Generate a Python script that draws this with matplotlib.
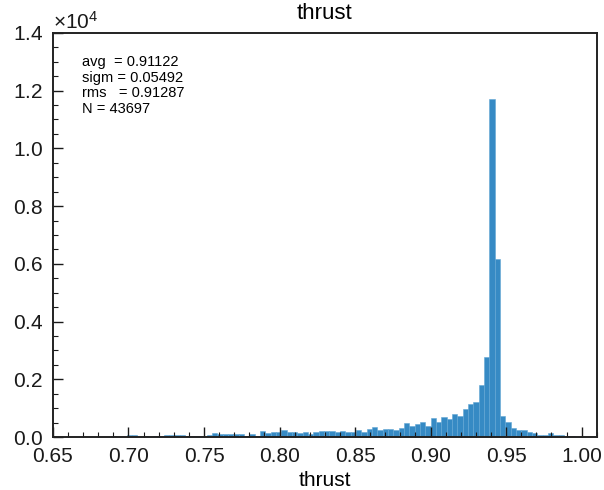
import matplotlib
matplotlib.use("Agg")
import matplotlib.pyplot as plt
import numpy as np
from matplotlib.ticker import MultipleLocator, ScalarFormatter

plt.rcParams["font.family"] = ["Liberation Sans", "DejaVu Sans"]
plt.rcParams["mathtext.fontset"] = "custom"
plt.rcParams["mathtext.rm"] = "Liberation Sans"
plt.rcParams["mathtext.it"] = "Liberation Sans:italic"

# histogram of thrust: 100 bins, counts
bin_start = 0.6494
bin_width = 0.00353
counts = [
    0, 0, 0, 0, 3, 0, 5, 4, 6, 8,
    12, 35, 10, 12, 58, 58, 12, 46, 12, 46,
    35, 58, 58, 58, 58, 35, 35, 35, 46, 58,
    127, 92, 92, 115, 115, 104, 46, 92, 40,
    208, 139, 162, 162, 231, 162, 185, 139, 162, 92, 162, 220, 210, 208, 185, 208, 162,
    162, 254, 173, 289, 335, 231, 289, 277, 254, 300, 485, 393, 439, 508, 393,
    647, 520, 681, 624, 808, 716, 970, 1155, 1201, 1790, 2772, 11710, 6180, 728, 520,
    300, 250, 235, 160, 150, 70, 70, 139, 58, 58, 35, 35, 5, 0,
]
stats_lines = ["avg  = 0.91122", "sigm = 0.05492", "rms   = 0.91287", "N = 43697"]

edges = bin_start + bin_width * np.arange(len(counts) + 1)

fig = plt.figure(figsize=(6.04, 4.90), dpi=100)
ax = fig.add_axes([0.0877, 0.108, 0.9003, 0.825])

ax.bar(edges[:-1], counts, width=np.diff(edges), align="edge",
       color="#368ac4", edgecolor="#62a6d4", linewidth=0.4)

ax.set_xlim(0.65, 1.01)
ax.set_ylim(0, 14000)

ax.xaxis.set_major_locator(MultipleLocator(0.05))
ax.xaxis.set_minor_locator(MultipleLocator(0.01))
ax.yaxis.set_major_locator(MultipleLocator(2000))
ax.yaxis.set_minor_locator(MultipleLocator(500))
ax.xaxis.set_major_formatter(matplotlib.ticker.FormatStrFormatter("%.2f"))

fmt = ScalarFormatter(useMathText=True)
fmt.set_powerlimits((0, 0))
ax.yaxis.set_major_formatter(fmt)
ax.yaxis.get_offset_text().set_fontsize(15)

ax.tick_params(which="both", direction="in", top=False, right=False,
               labelsize=15, colors="#1a1a1a")
ax.tick_params(which="major", length=7, width=1.0, pad=7)
ax.tick_params(which="minor", length=3.5, width=0.8)
for sp in ax.spines.values():
    sp.set_linewidth(1.4)
    sp.set_color("#222222")

ax.set_title("thrust", fontsize=16, pad=10)
ax.set_xlabel("thrust", fontsize=15, labelpad=4)

ax.text(0.053, 0.945, "\n".join(stats_lines), transform=ax.transAxes,
        fontsize=10.5, va="top", ha="left", linespacing=1.15)

fig.savefig("out.png", dpi=100)
